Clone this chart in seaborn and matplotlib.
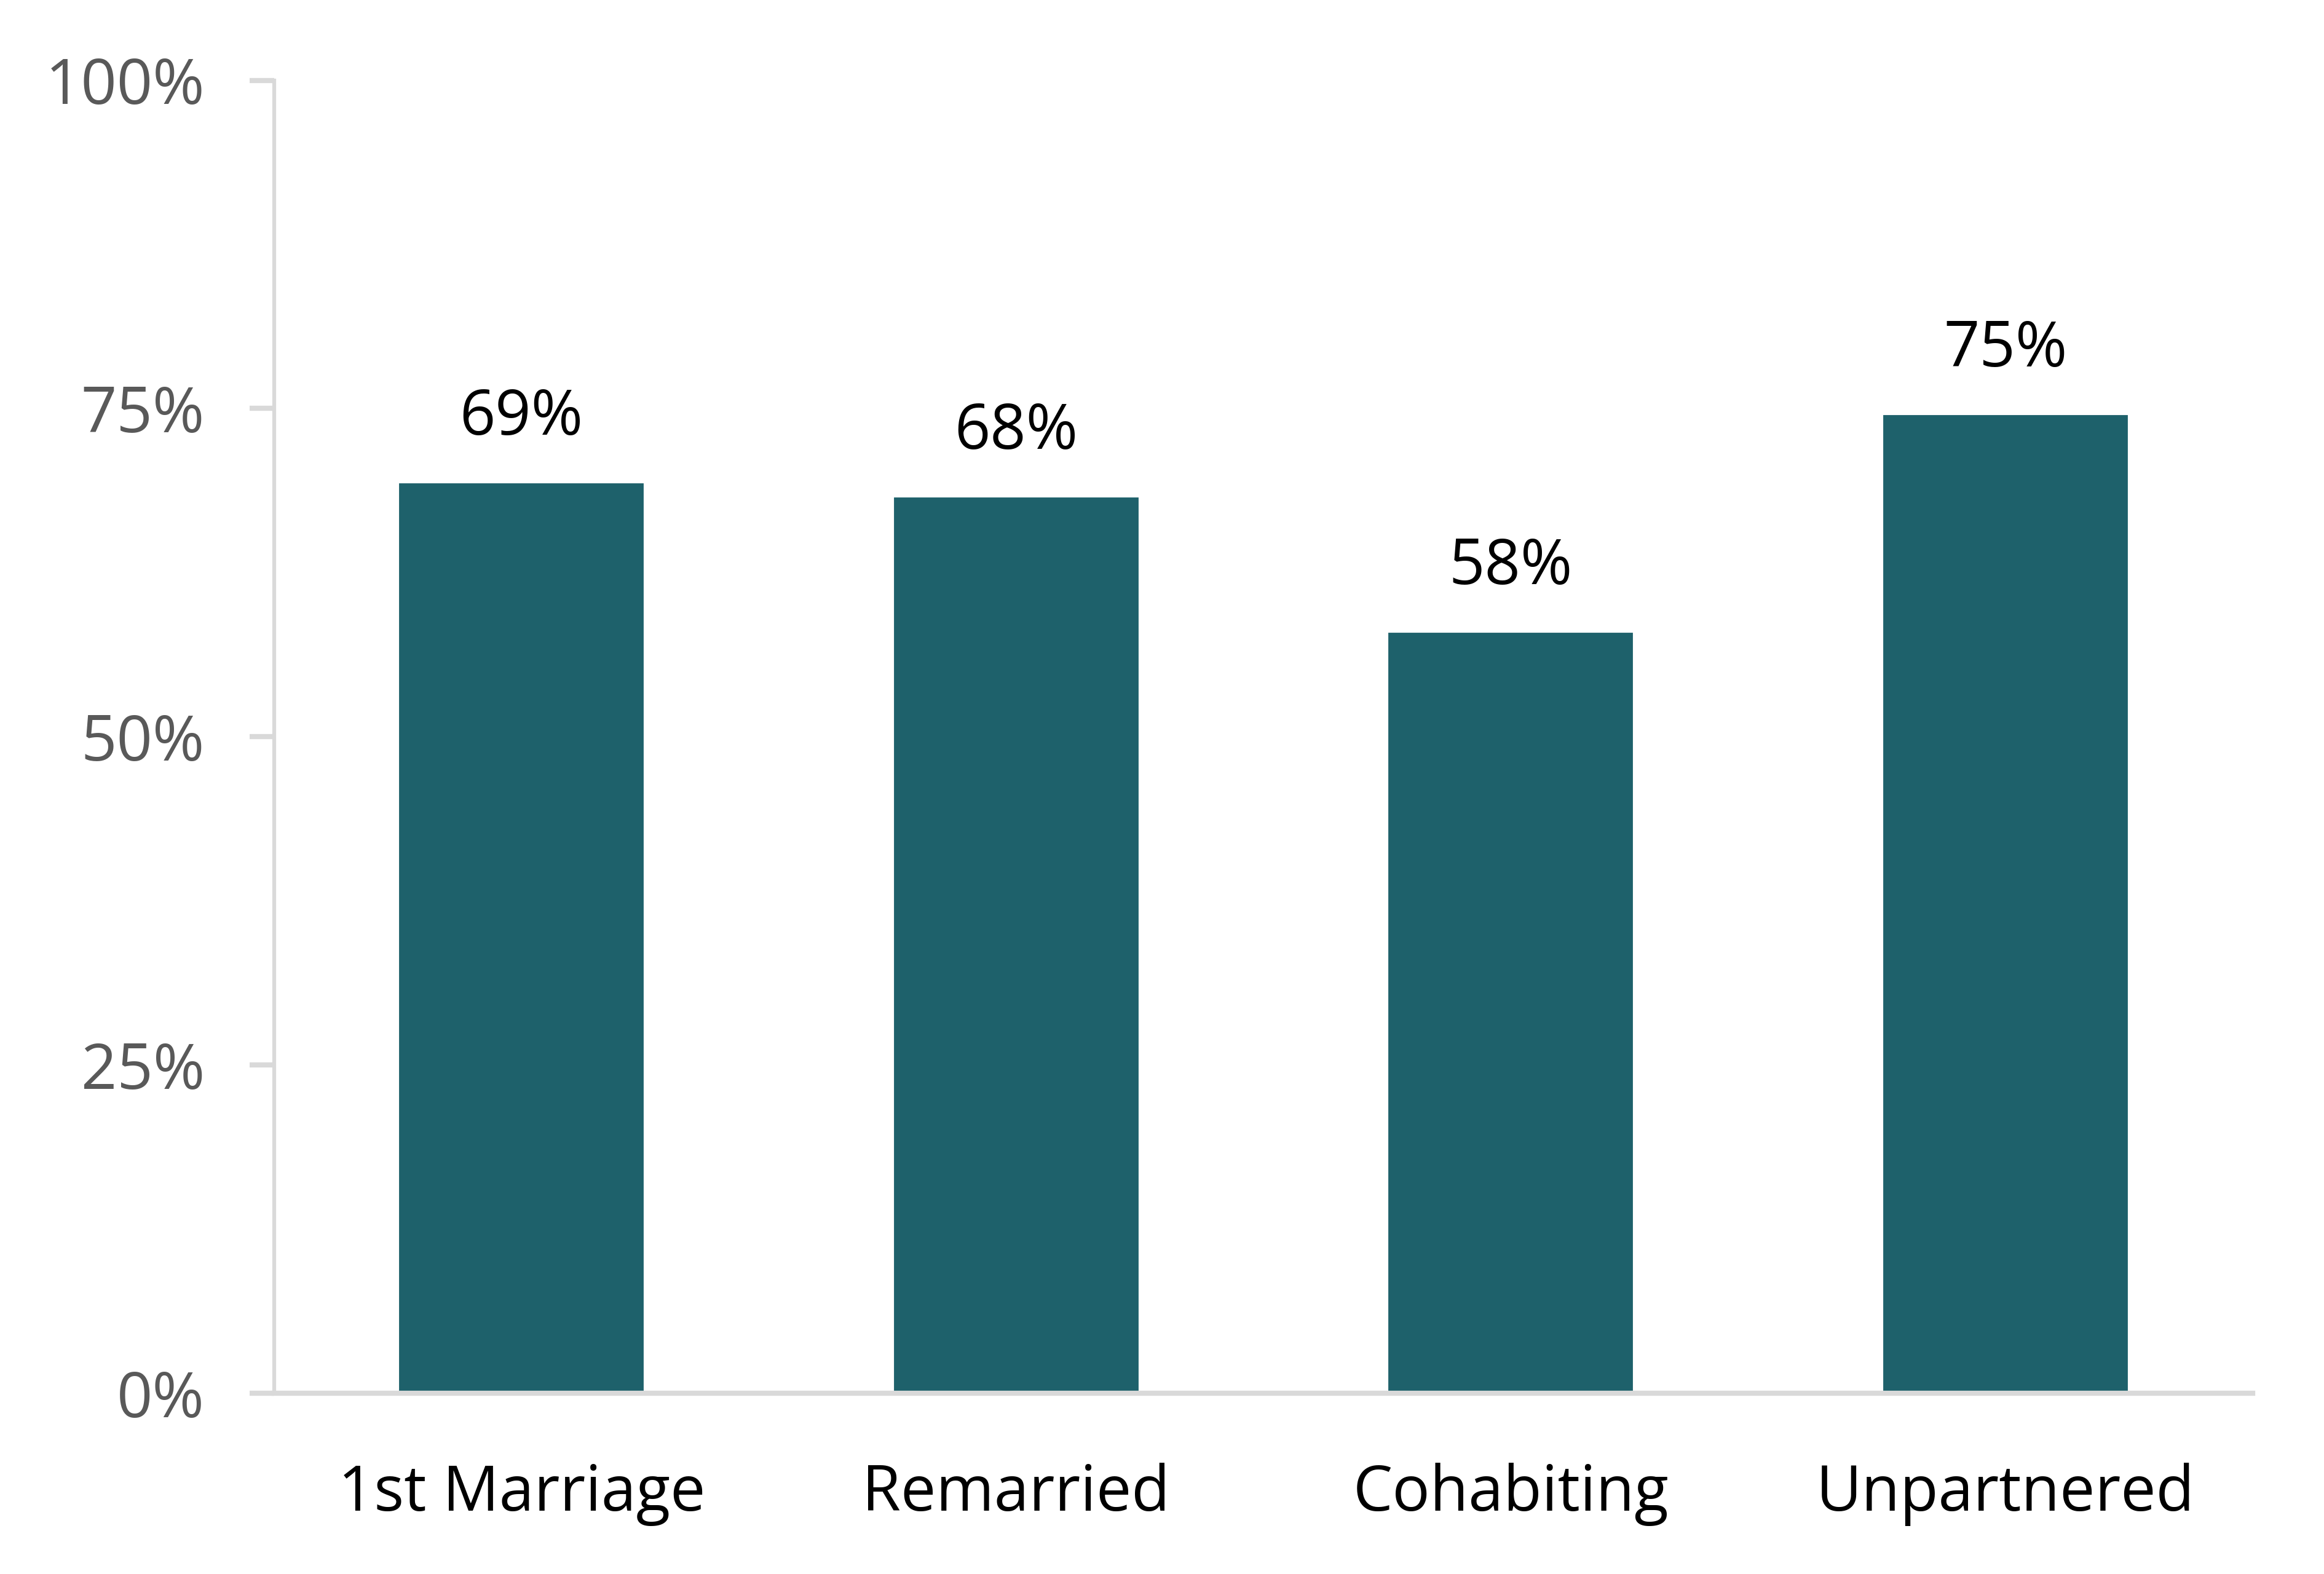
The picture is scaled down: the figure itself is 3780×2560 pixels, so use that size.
import matplotlib
matplotlib.use("Agg")
import matplotlib.pyplot as plt
import seaborn as sns
import pandas as pd
from matplotlib.ticker import PercentFormatter

categories = ["1st Marriage", "Remarried", "Cohabiting", "Unpartnered"]
values = [0.694, 0.683, 0.580, 0.746]
bar_labels = ["69%", "68%", "58%", "75%"]
yticks = [0, 0.25, 0.5, 0.75, 1.0]

sns.set_theme(style="white")
plt.rcParams["font.family"] = ["Open Sans", "DejaVu Sans"]

df = pd.DataFrame({"category": categories, "value": values})

fig = plt.figure(figsize=(12.6, 2560 / 300), dpi=300)
ax = fig.add_axes([446 / 3780, 1 - 2266 / 2560, (3664 - 446) / 3780, (2266 - 130.5) / 2560])

sns.barplot(data=df, x="category", y="value", color="#1E616B", saturation=1,
            width=0.5, ax=ax)

ax.set_xlim(-0.5, 3.5)
ax.set_ylim(0, 1)
ax.set_yticks(yticks)
ax.yaxis.set_major_formatter(PercentFormatter(1.0, decimals=0))
ax.set_xlabel("")
ax.set_ylabel("")

for s in ["top", "right"]:
    ax.spines[s].set_visible(False)
ax.spines["left"].set_color("#D9D9D9")
ax.spines["left"].set_linewidth(1.5)
ax.spines["bottom"].set_color("#D9D9D9")
ax.spines["bottom"].set_linewidth(2.0)

fs = 24.5
ax.tick_params(axis="y", direction="out", length=9.6, width=2.0, color="#D9D9D9",
               pad=17.5, labelsize=fs, labelcolor="#595959", left=True)
ax.tick_params(axis="x", length=0, pad=27, labelsize=fs, labelcolor="#000000")

for i, (v, lab) in enumerate(zip(values, bar_labels)):
    ax.annotate(lab, xy=(i, v), xytext=(0, 18.5), textcoords="offset points",
                ha="center", va="baseline", fontsize=fs, color="#000000")

fig.savefig("out.png", dpi=300, facecolor="white")
